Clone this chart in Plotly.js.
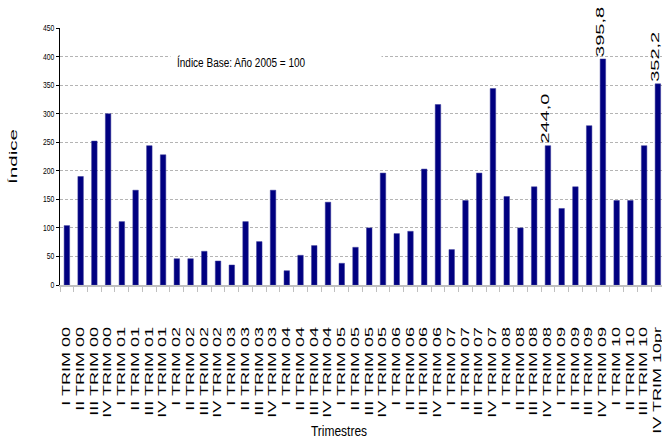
<!DOCTYPE html>
<html><head><meta charset="utf-8">
<script src="https://cdn.plot.ly/plotly-3.0.1.min.js"></script>
<style>html,body{margin:0;padding:0;background:#fff;overflow:hidden}</style>
</head><body><div id="chart" style="width:662px;height:444px"></div>
<script>
const categories = [
  "I TRIM 00","II TRIM 00","III TRIM 00","IV TRIM 00",
  "I TRIM 01","II TRIM 01","III TRIM 01","IV TRIM 01",
  "I TRIM 02","II TRIM 02","III TRIM 02","IV TRIM 02",
  "I TRIM 03","II TRIM 03","III TRIM 03","IV TRIM 03",
  "I TRIM 04","II TRIM 04","III TRIM 04","IV TRIM 04",
  "I TRIM 05","II TRIM 05","III TRIM 05","IV TRIM 05",
  "I TRIM 06","II TRIM 06","III TRIM 06","IV TRIM 06",
  "I TRIM 07","II TRIM 07","III TRIM 07","IV TRIM 07",
  "I TRIM 08","II TRIM 08","III TRIM 08","IV TRIM 08",
  "I TRIM 09","II TRIM 09","III TRIM 09","IV TRIM 09",
  "I TRIM 10","II TRIM 10","III TRIM 10","IV TRIM 10pr"
];
const indexValues = [
  104, 190, 252, 300,
  111, 166, 244, 228,
  46, 46, 59, 42,
  35, 111, 76, 166,
  25, 52, 69, 145,
  38, 66, 100, 196,
  90, 94, 203, 316,
  62, 148, 196, 344,
  155, 100, 172, 244.0,
  134, 172, 279, 395.8,
  148, 148, 244, 352.2
];
const valueLabels = [
  "","","","", "","","","", "","","","", "","","","",
  "","","","", "","","","", "","","","", "","","","",
  "","","","244,0", "","","","395,8", "","","","352,2"
];
const yTitle = "Índice";
const xTitle = "Trimestres";
const noteText = "Índice Base: Año 2005 = 100";

const SANS = "'Liberation Sans', Arial, sans-serif";

const trace = {
  type: 'bar',
  x: categories,
  y: indexValues,
  text: valueLabels,
  texttemplate: '%{text}',
  textposition: 'outside',
  textangle: -90,
  constraintext: 'none',
  cliponaxis: false,
  outsidetextfont: {family: SANS, size: 10, color: '#000'},
  marker: {color: '#000080', line: {color: '#3a3a9a', width: 0.5}},
  hoverinfo: 'x+y'
};

const layout = {
  width: 662, height: 444,
  margin: {l: 60, r: 0, t: 28, b: 159},
  paper_bgcolor: '#fff', plot_bgcolor: '#fff',
  showlegend: false,
  bargap: 0.6,
  font: {family: SANS, color: '#000'},
  xaxis: {
    type: 'category',
    range: [-0.5, 43.3],
    tickangle: -90,
    tickfont: {family: SANS, size: 10, color: '#000'},
    ticks: 'outside', tickson: 'boundaries', ticklen: 5, tickcolor: '#c0c0c0',
    showline: true, linecolor: '#c0c0c0', linewidth: 2,
    showgrid: false, ticklabelstandoff: 36,
    title: {text: xTitle, font: {family: SANS, size: 15, color: '#000'}, standoff: 40}
  },
  yaxis: {
    range: [0, 450], dtick: 50,
    tickfont: {family: SANS, size: 8.5, color: '#000'},
    ticks: 'outside', ticklen: 3, tickcolor: '#000',
    showline: true, linecolor: '#000', linewidth: 1,
    showgrid: true, gridcolor: '#b4b4b4', griddash: '3px,2px', gridwidth: 1,
    zeroline: false,
    title: {text: yTitle, font: {family: SANS, size: 11.5, color: '#000'}, standoff: 20}
  },
  annotations: [{
    text: noteText, xref: 'paper', yref: 'paper',
    x: (170 - 60) / 602, y: 0.865, xanchor: 'left', yanchor: 'middle',
    width: 198, align: 'left', showarrow: false,
    bgcolor: '#fff', borderpad: 6,
    font: {family: SANS, size: 12.5, color: '#000'}
  }]
};

function stretch(el, factor) {
  const n = el.getComputedTextLength();
  el.setAttribute('textLength', (n * factor).toFixed(2));
  el.setAttribute('lengthAdjust', 'spacingAndGlyphs');
  return n;
}

Plotly.newPlot('chart', [trace], layout, {displayModeBar: false, staticPlot: true}).then(function (gd) {
  gd.querySelectorAll('.xtick text').forEach(function (t) { stretch(t, 1.8); });
  gd.querySelectorAll('.ytick text').forEach(function (t) { stretch(t, 0.8); });
  gd.querySelectorAll('.g-ytitle text').forEach(function (t) { stretch(t, 1.8); });
  gd.querySelectorAll('.g-xtitle text').forEach(function (t) {
    stretch(t, 0.8);
    t.setAttribute('x', (parseFloat(t.getAttribute('x') || '0') - 22).toFixed(2));
  });
  gd.querySelectorAll('text.annotation-text').forEach(function (t) { stretch(t, 0.8); });
  gd.querySelectorAll('text.bartext').forEach(function (t) {
    if (!t.textContent) return;
    const f = 2.0;
    const n = stretch(t, f);
    const x0 = parseFloat(t.getAttribute('x') || '0');
    const y0 = parseFloat(t.getAttribute('y') || '0');
    t.setAttribute('x', (x0 + (f - 1) * n / 2 + 2).toFixed(2));
    t.setAttribute('y', (y0 - 2).toFixed(2));
  });
});
</script>
</body></html>
